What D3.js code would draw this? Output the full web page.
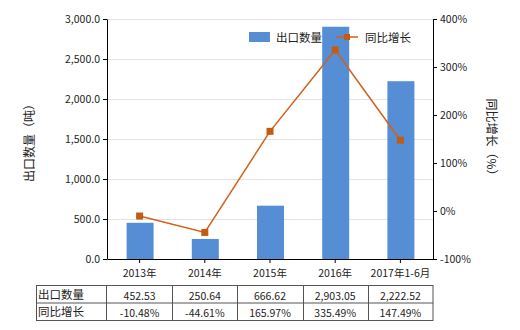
<!DOCTYPE html>
<html><head><meta charset="utf-8">
<script src="https://cdn.jsdelivr.net/npm/d3@7"></script>
<style>body{margin:0;background:#fff}svg{font-family:"Noto Sans CJK SC","Noto Sans",sans-serif}</style>
</head><body>
<svg id="c" width="520" height="330"></svg>
<script>
const categories=["2013年","2014年","2015年","2016年","2017年1-6月"];
const exportQty=[452.53,250.64,666.62,2903.05,2222.52];
const growth=[-10.48,-44.61,165.97,335.49,147.49];
const qtyLabels=["452.53","250.64","666.62","2,903.05","2,222.52"];
const growthLabels=["-10.48%","-44.61%","165.97%","335.49%","147.49%"];
const leftTicks=[0,500,1000,1500,2000,2500,3000];
const rightTicks=[-100,0,100,200,300,400];

const svg=d3.select("#c");
const L=107,R=433,T=19,B=259;
const xc=d3.scaleBand().domain(categories).range([L,R]);
const yL=d3.scaleLinear().domain([0,3000]).range([B,T]);
const yR=d3.scaleLinear().domain([-100,400]).range([B,T]);

// grid
svg.append("g").selectAll("line").data(leftTicks.slice(1)).join("line")
 .attr("x1",L).attr("x2",R).attr("y1",d=>yL(d)+0.5).attr("y2",d=>yL(d)+0.5)
 .attr("stroke","#e3e3e3").attr("stroke-width",1);

// bars
svg.append("g").selectAll("rect").data(exportQty).join("rect")
 .attr("x",(d,i)=>xc(categories[i])+xc.bandwidth()/2-13).attr("width",27)
 .attr("y",d=>yL(d)).attr("height",d=>B-yL(d)).attr("fill","#558ed5");

// axes
const fmt=d3.format(",.1f");
const ga=svg.append("g").attr("transform",`translate(${L},0)`)
 .call(d3.axisLeft(yL).tickValues(leftTicks).tickFormat(fmt).tickSize(4).tickSizeOuter(0));
const gr=svg.append("g").attr("transform",`translate(${R},0)`)
 .call(d3.axisRight(yR).tickValues(rightTicks).tickFormat(d=>d+"%").tickSize(4).tickSizeOuter(0));
const gb=svg.append("g").attr("transform",`translate(0,${B})`)
 .call(d3.axisBottom(xc).tickSize(4).tickSizeOuter(0));
[ga,gr,gb].forEach(g=>{g.selectAll("text").attr("font-size",10.5).attr("fill","#222").attr("font-family","Noto Sans CJK SC");
 g.select(".domain").attr("stroke","#000");g.selectAll(".tick line").attr("stroke","#000");});
gb.selectAll("text").attr("dy","1.05em");

// line
const line=d3.line().x((d,i)=>xc(categories[i])+xc.bandwidth()/2).y(d=>yR(d));
svg.append("path").datum(growth).attr("d",line).attr("fill","none").attr("stroke","#d2601a").attr("stroke-width",1.5);
svg.append("g").selectAll("rect").data(growth).join("rect")
 .attr("x",(d,i)=>xc(categories[i])+xc.bandwidth()/2-3.5).attr("y",d=>yR(d)-3.5)
 .attr("width",7).attr("height",7).attr("fill","#c55a11");

// axis titles
svg.append("text").attr("transform","translate(34,140) rotate(-90)").attr("text-anchor","middle")
 .attr("font-size",12).attr("fill","#222").text("出口数量（吨）");
svg.append("text").attr("transform","translate(487,140) rotate(90)").attr("text-anchor","middle")
 .attr("font-size",12).attr("fill","#222").text("同比增长（%）");

// legend
svg.append("rect").attr("x",249).attr("y",32).attr("width",21).attr("height",10).attr("fill","#558ed5");
svg.append("text").attr("x",276).attr("y",41.5).attr("font-size",11.5).attr("fill","#222").text("出口数量");
svg.append("line").attr("x1",336).attr("x2",358).attr("y1",37).attr("y2",37).attr("stroke","#d2601a").attr("stroke-width",1.5);
svg.append("rect").attr("x",344).attr("y",34).attr("width",6).attr("height",6).attr("fill","#c55a11");
svg.append("text").attr("x",365).attr("y",41.5).attr("font-size",11.5).attr("fill","#222").text("同比增长");

// table
const tT=285.5,tM=303,tB=320.5,tL=36.5,tC=106;
const tg=svg.append("g").attr("stroke","#555").attr("stroke-width",1).attr("fill","none");
tg.append("rect").attr("x",tL).attr("y",tT).attr("width",R-tL).attr("height",tB-tT);
tg.append("line").attr("x1",tL).attr("x2",R).attr("y1",tM).attr("y2",tM);
const cols=[tC].concat(categories.map(c=>xc(c)+xc.bandwidth()));
cols.slice(0,-1).forEach(cx=>tg.append("line").attr("x1",Math.round(cx)+0.5).attr("x2",Math.round(cx)+0.5).attr("y1",tT).attr("y2",tB));
svg.append("text").attr("x",38).attr("y",tT+13).attr("font-size",11.5).attr("fill","#222").text("出口数量");
svg.append("text").attr("x",38).attr("y",tM+13).attr("font-size",11.5).attr("fill","#222").text("同比增长");
const tcx=(i)=>xc(categories[i])+xc.bandwidth()/2;
svg.append("g").selectAll("text").data(qtyLabels).join("text").attr("x",(d,i)=>tcx(i)).attr("y",tT+14)
 .attr("text-anchor","middle").attr("font-size",10.5).attr("fill","#222").text(d=>d);
svg.append("g").selectAll("text").data(growthLabels).join("text").attr("x",(d,i)=>tcx(i)).attr("y",tM+14)
 .attr("text-anchor","middle").attr("font-size",10.5).attr("fill","#222").text(d=>d);
</script>
</body></html>
